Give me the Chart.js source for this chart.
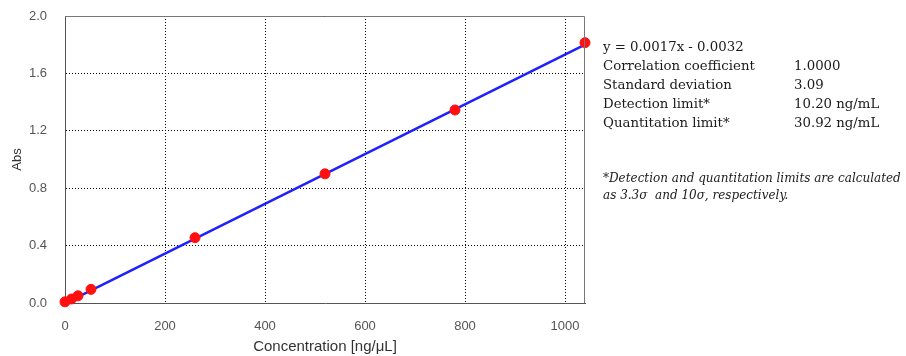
<!DOCTYPE html>
<html>
<head>
<meta charset="utf-8">
<script src="https://cdn.jsdelivr.net/npm/chart.js@4/dist/chart.umd.min.js"></script>
<style>
  html, body { margin: 0; padding: 0; background: #fff; }
  #wrap { position: relative; width: 906px; height: 356px; }
  canvas { position: absolute; left: 0; top: 0; }
  .info { position: absolute; font-family: "DejaVu Serif", serif; font-size: 13.3px; color: #1a1a1a; white-space: pre; }
  .note { position: absolute; font-family: "DejaVu Serif", serif; font-style: italic; font-size: 12px; color: #1a1a1a; white-space: pre; }
</style>
</head>
<body>
<div id="wrap">
  <canvas id="c" width="906" height="356"></canvas>
</div>
<script>
// ---- data ----
const concentrations = [0, 13, 26, 52, 260, 520, 780, 1040];
const absorbances    = [0.008, 0.028, 0.05, 0.095, 0.455, 0.90, 1.345, 1.814];
const fitX = [0, 1040];
const fitY = [-0.003, 1.80];
const xTicks = [0, 200, 400, 600, 800, 1000];
const yTicks = [0.0, 0.4, 0.8, 1.2, 1.6, 2.0];
const infoLabels = ["y = 0.0017x - 0.0032", "Correlation coefficient", "Standard deviation", "Detection limit*", "Quantitation limit*"];
const infoValues = ["", "1.0000", "3.09", "10.20 ng/mL", "30.92 ng/mL"];
const noteLines = ["*Detection and quantitation limits are calculated", "as 3.3\u03c3  and 10\u03c3, respectively."];

// ---- text block ----
const wrap = document.getElementById('wrap');
infoLabels.forEach((t, i) => {
  const d = document.createElement('div');
  d.className = 'info'; d.textContent = t;
  d.style.left = '603px'; d.style.top = (39 + i * 19) + 'px';
  wrap.appendChild(d);
  if (infoValues[i]) {
    const v = document.createElement('div');
    v.className = 'info'; v.textContent = infoValues[i];
    v.style.left = '794px'; v.style.top = (39 + i * 19) + 'px';
    wrap.appendChild(v);
  }
});
noteLines.forEach((t, i) => {
  const d = document.createElement('div');
  d.className = 'note'; d.textContent = t;
  d.style.left = '603px'; d.style.top = (171 + i * 17) + 'px';
  wrap.appendChild(d);
});

// ---- chart ----
const frame = {
  id: 'frame',
  afterDraw(chart) {
    const {ctx, chartArea: a} = chart;
    ctx.save();
    ctx.strokeStyle = '#777';
    ctx.lineWidth = 1;
    ctx.beginPath();
    ctx.moveTo(a.left, a.top + 0.5);
    ctx.lineTo(a.right - 0.5, a.top + 0.5);
    ctx.lineTo(a.right - 0.5, a.bottom);
    ctx.stroke();
    ctx.restore();
  }
};

new Chart(document.getElementById('c'), {
  type: 'scatter',
  data: {
    datasets: [
      {
        type: 'line',
        data: fitX.map((x, i) => ({x, y: fitY[i]})),
        borderColor: '#1f1fff',
        borderWidth: 2.5,
        pointRadius: 0,
        fill: false,
        clip: false,
        order: 2
      },
      {
        data: concentrations.map((x, i) => ({x, y: absorbances[i]})),
        backgroundColor: '#ff1010',
        borderColor: '#ff1010',
        pointRadius: 5,
        clip: false,
        order: 1
      }
    ]
  },
  options: {
    responsive: false,
    animation: false,
    layout: { padding: { left: 0, top: 16, right: 321, bottom: 0 } },
    plugins: { legend: { display: false }, tooltip: { enabled: false } },
    scales: {
      x: {
        type: 'linear', min: 0, max: 1040,
        afterBuildTicks: s => { s.ticks = xTicks.map(v => ({value: v})); },
        afterFit: s => { s.height = 53; s.paddingLeft = 0; s.paddingRight = 0; },
        ticks: { font: { family: 'Liberation Sans', size: 13 }, color: '#555', padding: 16, maxRotation: 0, callback: v => String(v) },
        grid: { color: '#000', lineWidth: 1, drawTicks: false },
        border: { display: true, color: '#555', width: 1, dash: [1, 2] },
        title: { display: true, text: 'Concentration [ng/\u03bcL]', font: { family: 'Liberation Sans', size: 15 }, color: '#333', padding: { top: 0, bottom: 0 } }
      },
      y: {
        type: 'linear', min: 0, max: 2.0,
        afterBuildTicks: s => { s.ticks = yTicks.map(v => ({value: v})); },
        afterFit: s => { s.width = 65; s.paddingTop = 0; s.paddingBottom = 0; },
        ticks: { font: { family: 'Liberation Sans', size: 13 }, color: '#555', padding: 18, callback: v => v.toFixed(1) },
        grid: { color: '#000', lineWidth: 1, drawTicks: false },
        border: { display: true, color: '#555', width: 1, dash: [1, 2] },
        title: { display: true, text: 'Abs', font: { family: 'Liberation Sans', size: 13 }, color: '#333', padding: { top: 10, bottom: 0 } }
      }
    }
  },
  plugins: [frame]
});
</script>
</body>
</html>
